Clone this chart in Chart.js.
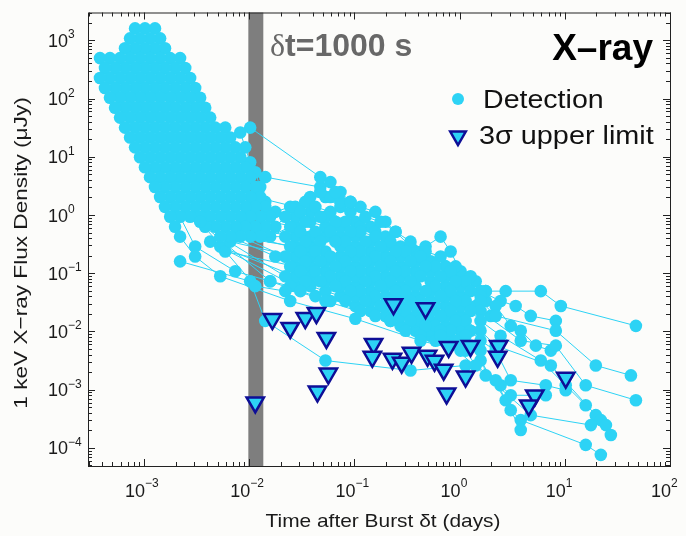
<!DOCTYPE html>
<html>
<head>
<meta charset="utf-8">
<title>X-ray afterglow light curves</title>
<script src="https://cdn.jsdelivr.net/npm/chart.js@4.4.1/dist/chart.umd.min.js"></script>
<style>
  html, body { margin: 0; padding: 0; background: #fcfcfa; }
  canvas { display: block; }
</style>
</head>
<body>
<canvas id="xray-chart" width="686" height="536"></canvas>
<script>
// --- X-ray afterglow light curves: 1 keV flux density vs time since burst ---

// axis limits (days, microJy) and tick exponents
const xMin = 2.93e-4, xMax = 100;
const yMin = 4.9e-5, yMax = 3000;
const xTickExp = [-3, -2, -1, 0, 1, 2];
const yTickExp = [-4, -3, -2, -1, 0, 1, 2, 3];

// grey band marking dt = 1000 s
const bandFrom = 0.0098, bandTo = 0.0136;

// detected light curves, [days, microJy]
const lc01 = [[3.81e-4,225],[4.25e-4,152],[4.74e-4,103],[5.30e-4,69.5],[5.91e-4,47.0],[6.59e-4,31.7],[7.36e-4,21.4],[8.21e-4,14.5],[9.16e-4,9.8],[1.02e-3,6.61],[1.14e-3,4.47],[1.27e-3,3.02],[1.42e-3,2.04],[1.58e-3,1.38],[1.77e-3,0.931],[1.97e-3,0.629],[2.20e-3,0.425],[3.06e-3,0.194],[5.30e-3,0.0887],[0.0245,0.0333],[0.102,0.0165],[0.425,0.00695],[1.02,0.0047]];
const lc02 = [[3.81e-4,494],[4.25e-4,334],[4.74e-4,225],[5.30e-4,152],[5.91e-4,103],[6.59e-4,69.5],[7.36e-4,47.0],[8.21e-4,31.7],[9.16e-4,21.4],[1.02e-3,14.5],[1.14e-3,9.8],[1.27e-3,6.61],[1.42e-3,4.47],[1.58e-3,3.02],[1.77e-3,2.04],[1.97e-3,1.38],[2.20e-3,0.931],[3.06e-3,0.287],[7.36e-3,0.108],[0.0158,0.0729],[0.0530,0.0333],[0.220,0.0152],[0.659,0.00846],[4.74,3.66e-4],[17.7,2.47e-4]];
const lc03 = [[4.74e-4,494],[5.30e-4,334],[5.91e-4,225],[6.59e-4,152],[7.36e-4,103],[8.21e-4,69.5],[9.16e-4,47.0],[1.02e-3,31.7],[1.14e-3,21.4],[1.27e-3,14.5],[1.42e-3,9.8],[1.58e-3,6.61],[1.77e-3,4.47],[1.97e-3,3.02],[2.20e-3,2.04],[2.46e-3,1.38],[2.74e-3,0.931],[3.41e-3,0.765],[0.0114,0.0600],[0.0220,0.0493],[0.0306,0.0493],[0.0425,0.0405],[0.0591,0.0333],[0.0821,0.0333],[0.114,0.0225],[0.158,0.0185],[0.220,0.0152],[0.306,0.0103],[0.425,0.00846],[0.591,0.00695],[0.821,0.00571],[1.14,0.0047],[1.42,0.00261],[2.20,0.00145],[3.81,2.03e-4]];
const lc04 = [[5.91e-4,494],[6.59e-4,334],[7.36e-4,225],[8.21e-4,152],[9.16e-4,103],[1.02e-3,69.5],[1.14e-3,47.0],[1.27e-3,31.7],[1.42e-3,21.4],[1.58e-3,14.5],[1.77e-3,9.8],[1.97e-3,6.61],[2.20e-3,4.47],[2.46e-3,3.02],[2.74e-3,2.04],[3.06e-3,1.38],[3.41e-3,0.931],[3.81e-3,0.629],[0.0158,0.0729],[0.0245,0.0600],[0.0341,0.0729],[0.0474,0.0729],[0.0659,0.0600],[0.0916,0.0493],[0.127,0.0333],[0.177,0.0274],[0.246,0.0225],[0.341,0.0152],[0.474,0.0125],[0.659,0.0103],[0.916,0.00695],[1.27,0.00571],[1.58,0.00317],[2.74,6.60e-4],[3.06,4.46e-4],[3.81,3.01e-4],[15.8,1.13e-4],[22.0,7.62e-5]];
const lc05 = [[6.59e-4,730],[7.36e-4,494],[8.21e-4,334],[9.16e-4,225],[1.02e-3,152],[1.14e-3,103],[1.27e-3,69.5],[1.42e-3,47.0],[1.58e-3,31.7],[1.77e-3,21.4],[1.97e-3,14.5],[2.20e-3,9.8],[2.46e-3,6.61],[2.74e-3,4.47],[3.06e-3,3.02],[3.41e-3,2.04],[3.81e-3,1.38],[4.25e-3,0.931],[4.74e-3,0.629],[5.30e-3,0.425],[0.0220,0.0887],[0.0306,0.108],[0.0425,0.108],[0.0591,0.0887],[0.0821,0.0729],[0.114,0.0493],[0.158,0.0405],[0.220,0.0333],[0.306,0.0225],[0.425,0.0152],[0.591,0.0125],[0.821,0.0103],[1.14,0.00846],[1.58,0.0047],[1.77,0.00176],[2.45,0.00119],[3.06,8.03e-4],[6.59,8.03e-4]];
const lc06 = [[7.36e-4,1080],[8.21e-4,730],[9.16e-4,494],[1.02e-3,334],[1.14e-3,225],[1.27e-3,152],[1.42e-3,103],[1.58e-3,69.5],[1.77e-3,47.0],[1.97e-3,31.7],[2.20e-3,21.4],[2.46e-3,14.5],[2.74e-3,9.8],[3.06e-3,6.61],[3.41e-3,4.47],[3.81e-3,3.02],[4.25e-3,2.04],[4.74e-3,1.38],[5.30e-3,0.931],[5.91e-3,0.629],[6.59e-3,0.425],[0.0177,0.194],[0.0245,0.131],[0.0341,0.160],[0.0474,0.160],[0.0659,0.131],[0.0916,0.108],[0.127,0.0729],[0.177,0.0600],[0.246,0.0493],[0.341,0.0333],[0.474,0.0225],[0.659,0.0185],[0.916,0.0152],[1.27,0.0103],[1.58,0.00695],[2.20,0.0047],[3.06,0.00145],[6.59,0.00119],[10.2,9.77e-4]];
const lc07 = [[8.21e-4,1600],[9.16e-4,1080],[1.02e-3,730],[1.14e-3,494],[1.27e-3,334],[1.42e-3,225],[1.58e-3,152],[1.77e-3,103],[1.97e-3,69.5],[2.20e-3,47.0],[2.46e-3,31.7],[2.74e-3,21.4],[3.06e-3,14.5],[3.41e-3,9.8],[3.81e-3,6.61],[4.25e-3,4.47],[4.74e-3,3.02],[5.30e-3,2.04],[5.91e-3,1.38],[6.59e-3,0.931],[7.36e-3,0.629],[8.21e-3,0.425],[0.0220,0.194],[0.0306,0.236],[0.0425,0.236],[0.0591,0.194],[0.0821,0.160],[0.114,0.108],[0.158,0.0887],[0.220,0.0729],[0.306,0.0493],[0.425,0.0333],[0.591,0.0274],[0.821,0.0225],[1.14,0.0152],[1.58,0.0103],[2.20,0.00571],[7.36,0.00261],[19.7,3.66e-4],[22.0,3.01e-4],[24.6,2.47e-4],[27.4,1.67e-4]];
const lc08 = [[1.02e-3,1600],[1.14e-3,1080],[1.27e-3,730],[1.42e-3,494],[1.58e-3,334],[1.77e-3,225],[1.97e-3,152],[2.20e-3,103],[2.46e-3,69.5],[2.74e-3,47.0],[3.06e-3,31.7],[3.41e-3,21.4],[3.81e-3,14.5],[4.25e-3,9.8],[4.74e-3,6.61],[5.30e-3,4.47],[5.91e-3,3.02],[6.59e-3,2.04],[7.36e-3,1.38],[8.21e-3,0.931],[9.16e-3,0.629],[0.0102,0.425],[0.0245,0.287],[0.0341,0.349],[0.0474,0.349],[0.0659,0.349],[0.0916,0.236],[0.127,0.160],[0.177,0.131],[0.246,0.108],[0.341,0.0729],[0.474,0.0493],[0.659,0.0405],[0.916,0.0333],[1.27,0.0225],[1.58,0.0152],[2.45,0.00846],[5.91,0.00317],[10.2,0.00119],[15.8,5.42e-4]];
const lc09 = [[1.27e-3,1600],[1.42e-3,1080],[1.58e-3,730],[1.77e-3,494],[1.97e-3,334],[2.20e-3,225],[2.46e-3,152],[2.74e-3,103],[3.06e-3,69.5],[3.41e-3,47.0],[3.81e-3,31.7],[4.25e-3,21.4],[4.74e-3,14.5],[5.30e-3,9.8],[5.91e-3,6.61],[6.59e-3,4.47],[7.36e-3,3.02],[8.21e-3,2.04],[9.16e-3,1.38],[0.0102,0.931],[0.0114,0.629],[0.0127,0.425],[0.0220,0.425],[0.0306,0.517],[0.0425,0.517],[0.0591,0.517],[0.0821,0.349],[0.114,0.236],[0.158,0.194],[0.220,0.160],[0.306,0.108],[0.425,0.0887],[0.591,0.0600],[0.821,0.0493],[1.14,0.0333],[1.58,0.0225],[3.81,0.00695],[8.21,0.00571],[15.8,0.00119],[47.4,6.60e-4]];
const lc10 = [[2.20e-3,494],[2.46e-3,334],[2.74e-3,225],[3.06e-3,152],[3.41e-3,103],[3.81e-3,69.5],[4.25e-3,47.0],[4.74e-3,31.7],[5.30e-3,21.4],[5.91e-3,14.5],[6.59e-3,9.8],[7.36e-3,6.61],[8.21e-3,4.47],[9.16e-3,3.02],[0.0102,2.04],[0.0114,1.38],[0.0127,0.931],[0.0142,0.629],[0.0158,0.425],[0.0245,0.629],[0.0341,0.765],[0.0474,0.931],[0.0659,0.765],[0.0916,0.517],[0.127,0.349],[0.177,0.287],[0.246,0.236],[0.341,0.160],[0.474,0.131],[0.659,0.0887],[0.916,0.0729],[1.27,0.0493],[1.58,0.0333],[2.20,0.0185],[8.21,0.0103],[19.7,0.00261],[42.5,0.00176]];
const lc11 = [[5.91e-3,31.7],[6.59e-3,21.4],[7.36e-3,14.5],[8.21e-3,9.8],[9.16e-3,6.61],[0.0102,4.47],[0.0114,3.02],[0.0127,2.04],[0.0142,1.38],[0.0158,0.931],[0.0177,0.629],[0.0220,0.931],[0.0306,1.13],[0.0425,1.38],[0.0591,1.13],[0.0821,0.765],[0.114,0.517],[0.158,0.425],[0.220,0.349],[0.306,0.236],[0.425,0.194],[0.591,0.131],[0.821,0.108],[1.14,0.0729],[1.58,0.0405],[2.20,0.0274],[3.06,0.0125],[3.81,0.0103],[5.30,0.00571],[7.36,0.0047]];
const lc12 = [[8.21e-3,26.1],[9.16e-3,14.5],[0.0102,8.04],[0.0114,5.43],[0.0127,3.02],[0.0142,1.68],[0.0177,1.13],[0.0245,1.38],[0.0341,1.68],[0.0474,2.48],[0.0659,2.48],[0.0916,1.68],[0.127,0.931],[0.177,0.765],[0.246,0.517],[0.341,0.349],[0.474,0.236],[0.659,0.194],[0.916,0.131],[1.27,0.0887],[1.58,0.0493],[2.45,0.0333],[3.41,0.0274],[4.74,0.0185],[8.21,0.0152]];
const lc13 = [[0.0102,31.7],[0.0474,4.47],[0.0591,3.67],[0.0736,2.48],[0.0916,1.68],[0.114,1.38],[0.158,1.13],[0.197,0.765],[0.246,0.517],[0.341,0.287],[0.474,0.287],[0.659,0.425],[0.821,0.236],[1.02,0.108],[1.42,0.0729],[1.77,0.0493],[2.74,0.0493],[5.91,0.0493],[9.16,0.0274],[47.4,0.0125]];
const lc14 = [[0.0142,4.47],[0.0474,3.02],[0.0591,2.04],[0.0736,1.68],[0.0916,1.13],[0.114,0.629],[0.158,0.517]];
const lc15 = [[2.20e-3,0.160],[0.0102,0.0729],[0.0142,0.0152],[0.0530,0.00317],[0.341,0.00214],[1.14,0.00261]];
const lc16 = [[0.0114,2.04],[0.0274,1.38],[0.0380,2.04],[0.0530,2.04],[0.0736,1.38],[0.102,0.765],[0.142,0.629],[0.197,0.425],[0.274,0.287],[0.381,0.236],[0.530,0.160],[0.736,0.131],[1.02,0.0887],[1.77,0.0493]];
const lc17 = [[0.0102,1.38],[0.0274,0.931],[0.0380,1.13],[0.0530,0.931],[0.0736,0.629],[0.102,0.425],[0.142,0.349],[0.197,0.287],[0.274,0.194],[0.381,0.160],[0.530,0.108],[0.736,0.0887],[1.02,0.0600],[1.77,0.0333]];
const lc18 = [[9.16e-3,0.931],[0.0274,0.629],[0.0380,0.765],[0.0530,0.629],[0.0736,0.425],[0.102,0.287],[0.142,0.236],[0.197,0.194],[0.274,0.131],[0.381,0.108],[0.530,0.0729],[0.736,0.0600],[1.02,0.0405],[1.42,0.0274]];
const lc19 = [[8.21e-3,0.629],[0.0274,0.425],[0.0380,0.425],[0.0530,0.425],[0.0736,0.287],[0.102,0.194],[0.142,0.160],[0.197,0.131],[0.274,0.0887],[0.381,0.0600],[0.530,0.0493],[0.736,0.0405],[1.02,0.0274],[1.97,0.0185]];
const lc20 = [[7.36e-3,0.425],[0.0274,0.287],[0.0380,0.287],[0.0530,0.236],[0.0736,0.194],[0.102,0.131],[0.142,0.108],[0.197,0.0887],[0.274,0.0600],[0.381,0.0405],[0.530,0.0333],[0.736,0.0274],[1.02,0.0185]];
const lc21 = [[6.59e-3,0.349],[0.0274,0.194],[0.0380,0.194],[0.0530,0.160],[0.0736,0.131],[0.102,0.0887],[0.142,0.0729],[0.197,0.0600],[0.274,0.0405],[0.381,0.0274],[0.530,0.0225],[0.736,0.0185],[1.02,0.0125]];
const lc22 = [[5.91e-3,0.236],[0.0274,0.131],[0.0380,0.131],[0.0530,0.108],[0.0736,0.0887],[0.102,0.0600],[0.142,0.0493],[0.197,0.0405],[0.274,0.0274],[0.381,0.0185],[0.530,0.0152],[0.736,0.0125],[1.02,0.0103]];
const lc23 = [[5.30e-3,0.287],[0.0274,0.0887],[0.0380,0.0887],[0.0530,0.0729],[0.0736,0.0600],[0.102,0.0405],[0.142,0.0333],[0.197,0.0274],[0.274,0.0185],[0.381,0.0152],[0.530,0.0103],[0.736,0.00846],[1.02,0.00695]];
const lc24 = [[4.25e-3,0.349],[0.0274,0.0600],[0.0380,0.0600],[0.0530,0.0493],[0.0736,0.0405],[0.102,0.0274],[0.142,0.0225],[0.197,0.0185],[0.274,0.0125],[0.381,0.0103],[0.530,0.00846],[0.736,0.00695],[1.02,0.00571]];

const lightCurves = [lc01, lc02, lc03, lc04, lc05, lc06, lc07, lc08, lc09, lc10, lc11, lc12,
  lc13, lc14, lc15, lc16, lc17, lc18, lc19, lc20, lc21, lc22, lc23, lc24];

// 3-sigma upper limits
const ulTime = [0.0114, 0.0166, 0.0245, 0.0341, 0.0435, 0.0541, 0.0565, 0.0445, 0.235, 0.474, 0.152, 0.148, 0.230, 0.281, 0.349, 0.496, 0.578, 0.705, 0.786, 0.752, 1.14, 1.27, 2.35, 2.30, 10.2, 5.18, 4.54];
const ulFlux = [6.05e-4, 0.0163, 0.0115, 0.0170, 0.0207, 0.00775, 0.00189, 9.3e-4, 0.0294, 0.0251, 0.00612, 0.00368, 0.00340, 0.00291, 0.00431, 0.00383, 0.00314, 0.00221, 0.00544, 8.6e-4, 0.00168, 0.00566, 0.00566, 0.00368, 0.00161, 7.96e-4, 5.38e-4];

const CYAN = 'rgb(45,211,245)';
const NAVY = 'rgb(14,14,150)';
const FONT = "'Liberation Sans', Arial, Helvetica, sans-serif";

function supExp(e) {
  return e < 0 ? '\u2212' + (-e) : String(e);
}

// text with a horizontal stretch (labels here run a bit wider than Arial)
function stretchText(ctx, str, x, y, font, sx, align) {
  ctx.save();
  ctx.font = font;
  ctx.textAlign = align || 'left';
  ctx.translate(x, y);
  ctx.scale(sx, 1);
  ctx.fillText(str, 0, 0);
  ctx.restore();
}

function downTriangle(ctx, x, y, r) {
  const h = r * Math.sin(Math.PI / 3);
  ctx.beginPath();
  ctx.moveTo(x, y + r);
  ctx.lineTo(x - h, y - r / 2);
  ctx.lineTo(x + h, y - r / 2);
  ctx.closePath();
}

function logTicks(min, max) {
  const out = [];
  for (let e = Math.floor(Math.log10(min)); e <= Math.ceil(Math.log10(max)); e++) {
    for (let k = 1; k <= 9; k++) {
      const v = Number((k * Math.pow(10, e)).toPrecision(3));
      if (v >= min * 0.999 && v <= max * 1.001) out.push({ v, major: k === 1 });
    }
  }
  return out;
}

const decor = {
  id: 'decor',
  beforeDraw(chart) {
    const ctx = chart.ctx;
    ctx.save();
    ctx.fillStyle = '#fcfcfa';
    ctx.fillRect(0, 0, chart.width, chart.height);
    ctx.restore();
  },
  beforeDatasetsDraw(chart) {
    const { ctx, chartArea: a, scales: { x } } = chart;
    const x0 = x.getPixelForValue(bandFrom);
    const x1 = x.getPixelForValue(bandTo);
    ctx.save();
    ctx.fillStyle = '#7e7e7e';
    ctx.fillRect(x0, a.top, x1 - x0, a.bottom - a.top);
    ctx.restore();
  },
  afterDraw(chart) {
    const { ctx, chartArea: a, scales: { x, y } } = chart;
    ctx.save();

    // box + inward ticks on all four sides
    ctx.strokeStyle = '#222';
    ctx.lineWidth = 1;
    ctx.strokeRect(a.left + 0.5, a.top + 0.5, a.right - a.left, a.bottom - a.top);
    ctx.beginPath();
    logTicks(xMin, xMax).forEach(t => {
      const px = Math.round(x.getPixelForValue(t.v)) + 0.5;
      const len = t.major ? 7 : 4;
      ctx.moveTo(px, a.bottom); ctx.lineTo(px, a.bottom - len);
      ctx.moveTo(px, a.top); ctx.lineTo(px, a.top + len);
    });
    logTicks(yMin, yMax).forEach(t => {
      const py = Math.round(y.getPixelForValue(t.v)) + 0.5;
      const len = t.major ? 7 : 4;
      ctx.moveTo(a.left, py); ctx.lineTo(a.left + len, py);
      ctx.moveTo(a.right, py); ctx.lineTo(a.right - len, py);
    });
    ctx.stroke();

    // tick labels as 10^n
    ctx.fillStyle = '#1a1a1a';
    ctx.textBaseline = 'alphabetic';
    xTickExp.forEach(e => {
      const px = x.getPixelForValue(Math.pow(10, e));
      ctx.font = `18px ${FONT}`;
      ctx.textAlign = 'right';
      ctx.fillText('10', px + 1, 497);
      ctx.font = `12px ${FONT}`;
      ctx.textAlign = 'left';
      ctx.fillText(supExp(e), px + 1, 487);
    });
    yTickExp.forEach(e => {
      const py = y.getPixelForValue(Math.pow(10, e));
      ctx.font = `18px ${FONT}`;
      ctx.textAlign = 'left';
      ctx.fillText('10', 48, py + 6.5);
      const w = ctx.measureText('10').width;
      ctx.font = `12px ${FONT}`;
      ctx.fillText(supExp(e), 48 + w, py - 2);
    });

    // axis titles
    stretchText(ctx, 'Time after Burst \u03b4t (days)', 383, 527, `19px ${FONT}`, 1.1, 'center');
    ctx.save();
    ctx.translate(27, 253);
    ctx.rotate(-Math.PI / 2);
    stretchText(ctx, '1 keV X\u2212ray Flux Density (\u03bcJy)', 0, 0, `19px ${FONT}`, 1.19, 'center');
    ctx.restore();

    // band note
    ctx.fillStyle = '#686868';
    ctx.textAlign = 'left';
    ctx.font = "32px 'Liberation Serif', 'Times New Roman', serif";
    ctx.fillText('\u03b4', 270, 56);
    const dw = ctx.measureText('\u03b4').width;
    ctx.font = `bold 32px ${FONT}`;
    ctx.fillText('t=1000 s', 270 + dw, 56);

    // panel name
    ctx.fillStyle = '#000';
    ctx.textAlign = 'right';
    ctx.font = `bold 37px ${FONT}`;
    ctx.fillText('X\u2013ray', 653, 60);

    // legend
    ctx.fillStyle = CYAN;
    ctx.beginPath();
    ctx.arc(458, 99, 6, 0, Math.PI * 2);
    ctx.fill();
    downTriangle(ctx, 458, 136, 9);
    ctx.fillStyle = CYAN;
    ctx.fill();
    ctx.strokeStyle = NAVY;
    ctx.lineWidth = 2.5;
    ctx.stroke();
    ctx.fillStyle = '#111';
    stretchText(ctx, 'Detection', 483, 108, `25.5px ${FONT}`, 1.12, 'left');
    stretchText(ctx, '3\u03c3 upper limit', 479, 144, `25.5px ${FONT}`, 1.13, 'left');

    ctx.restore();
  }
};

const datasets = lightCurves.map(lc => ({
  data: lc.map(([t, f]) => ({ x: t, y: f })),
  showLine: true,
  borderColor: CYAN,
  borderWidth: 1,
  pointRadius: 6.3,
  pointBorderWidth: 0,
  pointBackgroundColor: CYAN,
  order: 1
}));

datasets.unshift({
  data: ulTime.map((t, i) => ({ x: t, y: ulFlux[i] })),
  showLine: false,
  pointStyle: 'triangle',
  rotation: 180,
  pointRadius: 10,
  pointBackgroundColor: CYAN,
  pointBorderColor: NAVY,
  pointBorderWidth: 2.5,
  order: 0
});

new Chart(document.getElementById('xray-chart'), {
  type: 'scatter',
  data: { datasets },
  options: {
    responsive: false,
    animation: false,
    events: [],
    layout: { padding: { left: 88, right: 16, top: 9, bottom: 70 } },
    plugins: { legend: { display: false }, tooltip: { enabled: false } },
    scales: {
      x: { type: 'logarithmic', min: xMin, max: xMax, display: false },
      y: { type: 'logarithmic', min: yMin, max: yMax, display: false }
    }
  },
  plugins: [decor]
});
</script>
</body>
</html>
